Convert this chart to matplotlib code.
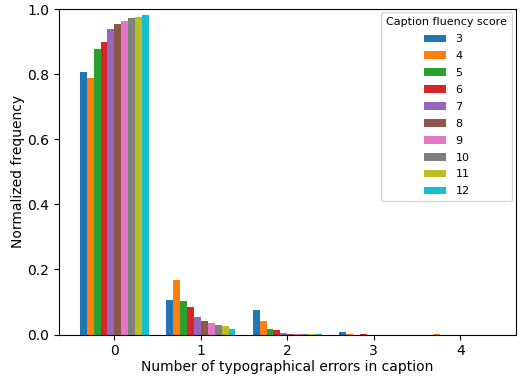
import numpy as np
import matplotlib
matplotlib.use("Agg")
import matplotlib.pyplot as plt

errors = [0, 1, 2, 3, 4]
scores = [3, 4, 5, 6, 7, 8, 9, 10, 11, 12]
freq = {
    3:  [0.807, 0.107, 0.076, 0.009, 0.000],
    4:  [0.789, 0.168, 0.040, 0.003, 0.003],
    5:  [0.878, 0.104, 0.018, 0.000, 0.000],
    6:  [0.899, 0.083, 0.015, 0.003, 0.000],
    7:  [0.939, 0.055, 0.006, 0.000, 0.000],
    8:  [0.954, 0.043, 0.003, 0.000, 0.000],
    9:  [0.963, 0.034, 0.003, 0.000, 0.000],
    10: [0.972, 0.028, 0.002, 0.000, 0.000],
    11: [0.976, 0.025, 0.001, 0.000, 0.000],
    12: [0.982, 0.018, 0.001, 0.000, 0.000],
}

fig, ax = plt.subplots(figsize=(5.24, 3.79), dpi=100)
n = len(scores)
width = 0.8 / n
x = np.arange(len(errors))
for i, s in enumerate(scores):
    ax.bar(x - 0.4 + width * (i + 0.5), freq[s], width=width, label=str(s))
ax.set_xticks(x)
ax.set_xticklabels([str(e) for e in errors])
ax.set_ylim(0, 1.0)
ax.set_xlabel("Number of typographical errors in caption", labelpad=1)
ax.set_ylabel("Normalized frequency", labelpad=1.5)
ax.legend(title="Caption fluency score", loc="upper right", fontsize=8,
          title_fontsize=8, borderaxespad=0.3, labelspacing=0.62,
          borderpad=0.45)
fig.subplots_adjust(left=0.1126, right=0.984, top=0.976, bottom=0.1174)
fig.savefig("out.png", dpi=100)
